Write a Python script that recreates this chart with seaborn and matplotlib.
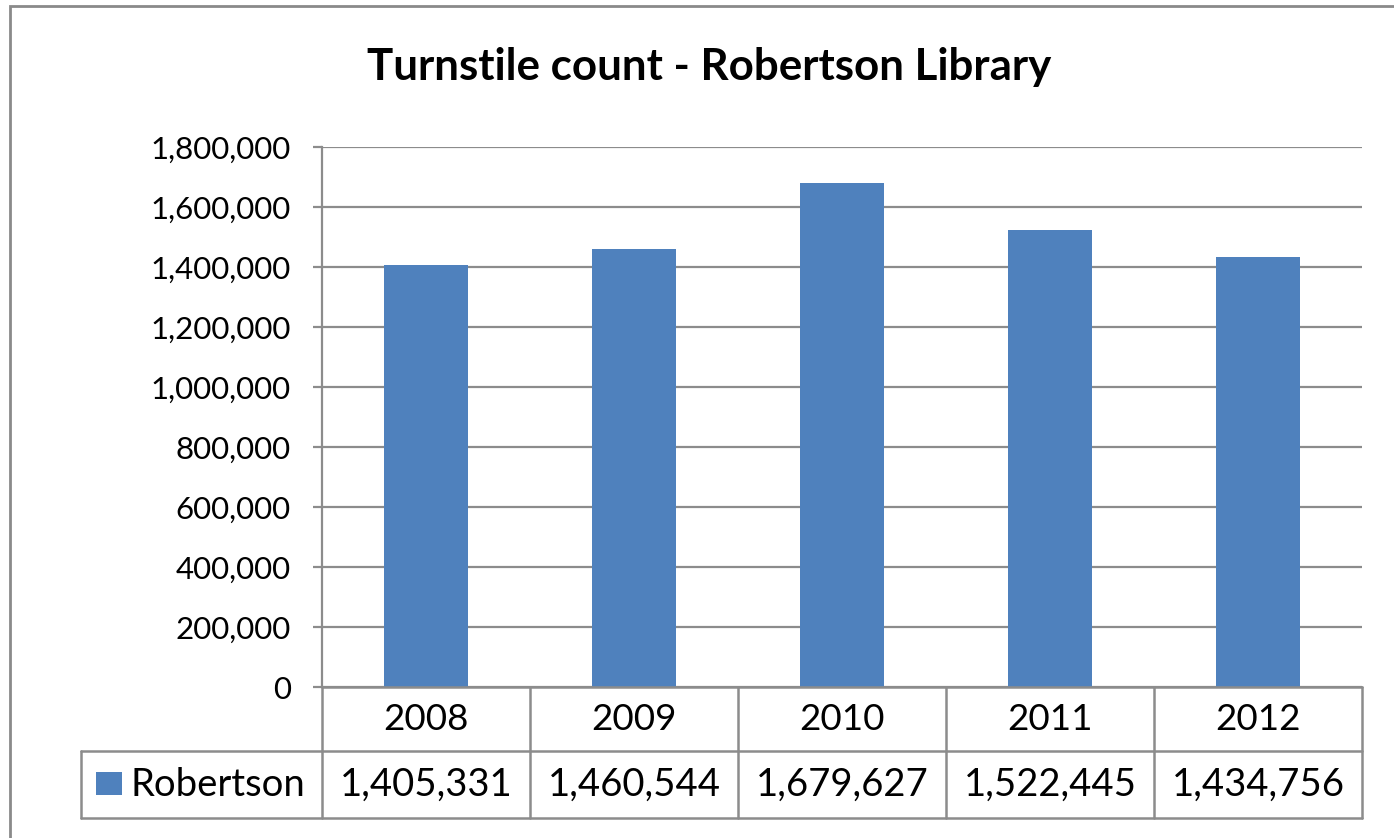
import matplotlib
matplotlib.use("Agg")
import matplotlib.pyplot as plt
import matplotlib.transforms as mtransforms
from matplotlib.patches import Rectangle
from matplotlib.lines import Line2D
import seaborn as sns
import pandas as pd

years = ["2008", "2009", "2010", "2011", "2012"]
counts = [1405331, 1460544, 1679627, 1522445, 1434756]
series_name = "Robertson"
title = "Turnstile count - Robertson Library"
yticks = list(range(0, 1800001, 200000))

sns.set_theme(style="white")
plt.rcParams["font.family"] = ["Lato", "DejaVu Sans"]

BAR = "#4F81BD"
GRID = "#8C8C8C"
W, H = 1394, 838

fig = plt.figure(figsize=(W / 100, H / 100), dpi=100)
fig.patch.set_facecolor("white")

# axes placement (pixel based)
L, R, T, B = 322, 1362, 147, 687
ax = fig.add_axes([L / W, 1 - B / H, (R - L) / W, (B - T) / H])

df = pd.DataFrame({"year": years, "count": counts})
sns.barplot(data=df, x="year", y="count", color=BAR, width=0.4, ax=ax,
            saturation=1, edgecolor="none")

ax.set_ylim(0, 1800000)
ax.set_xlim(-0.5, len(years) - 0.5)
ax.set_yticks(yticks)
ax.set_yticklabels([f"{v:,}" for v in yticks], fontsize=22.5, color="black")
ax.set_xticks([])
ax.set_xlabel("")
ax.set_ylabel("")
ax.yaxis.grid(True, color=GRID, linewidth=1.6)
ax.set_axisbelow(True)
ax.tick_params(axis="y", which="major", direction="out", length=6.5, width=1.6,
               color=GRID, pad=16, left=True, labelcolor="black")
for s in ["top", "right", "bottom"]:
    ax.spines[s].set_visible(False)
ax.spines["left"].set_color(GRID)
ax.spines["left"].set_linewidth(1.6)

fig.text(709 / W, 1 - 67 / H, title, ha="center", va="center",
         fontsize=31.6, fontweight="bold", color="black")

# data table
ax_h = B - T
ax_w = R - L
r1 = -(751 - B) / ax_h
r2 = -(818 - B) / ax_h
left_cell = (81 - L) / ax_w
trans = mtransforms.blended_transform_factory(ax.transData, ax.transAxes)
lkw = dict(color=GRID, linewidth=1.8, clip_on=False)
# horizontal lines
ax.add_line(Line2D([0, 1], [0, 0], transform=ax.transAxes, **lkw))
ax.add_line(Line2D([left_cell, 1], [r1, r1], transform=ax.transAxes, **lkw))
ax.add_line(Line2D([left_cell, 1], [r2, r2], transform=ax.transAxes, **lkw))
ax.add_line(Line2D([left_cell, left_cell], [r1, r2], transform=ax.transAxes, **lkw))
for i in range(len(years) + 1):
    xb = i - 0.5
    ax.add_line(Line2D([xb, xb], [0, r2], transform=trans, **lkw))

for i, (yr, v) in enumerate(zip(years, counts)):
    ax.text(i, r1 / 2, yr, transform=trans, ha="center", va="center",
            fontsize=26.5, color="black")
    ax.text(i, (r1 + r2) / 2, f"{v:,}", transform=trans, ha="center",
            va="center", fontsize=27.5, color="black")

# legend key + series name
ax.add_patch(Rectangle(((96 - L) / ax_w, -(795 - B) / ax_h), 26 / ax_w, 23 / ax_h,
                       transform=ax.transAxes, facecolor=BAR, edgecolor="none",
                       clip_on=False))
ax.text((131 - L) / ax_w, (r1 + r2) / 2, series_name, transform=ax.transAxes,
        ha="left", va="center", fontsize=27.5, color="black")

# outer chart border
fig.patches.append(Rectangle((10 / W, -0.2), 2, 1.2 - 6 / H, transform=fig.transFigure,
                             facecolor="none", edgecolor="#8A8A8A", linewidth=2))

fig.savefig("out.png", dpi=100, facecolor="white")
